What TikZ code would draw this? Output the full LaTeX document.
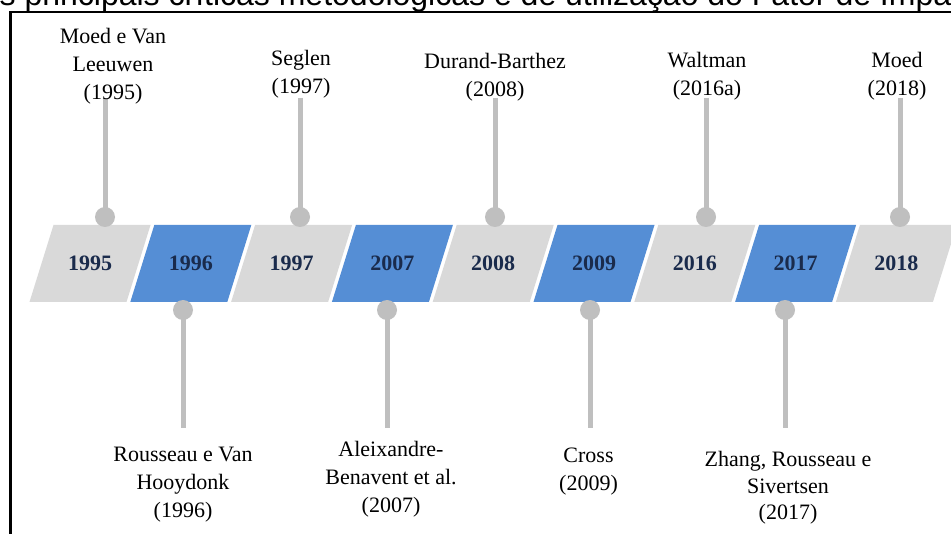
\documentclass[tikz,border=0pt]{standalone}
\usepackage{fontspec}
\setmainfont{Liberation Serif}
\newfontfamily\titlefont{Liberation Sans}
\definecolor{bargray}{HTML}{D9D9D9}
\definecolor{barblue}{HTML}{558ED5}
\definecolor{stemgray}{HTML}{BFBFBF}
\definecolor{yeartext}{HTML}{1A2B4C}
\tikzset{
  yearlbl/.style={font=\fontsize{22}{26}\selectfont\bfseries, text=yeartext, inner sep=0pt},
  dot/.style={circle, fill=stemgray, minimum size=20pt, inner sep=0pt},
  stem/.style={draw=stemgray, line width=5pt},
  citelbl/.style={font=\fontsize{22}{28}\selectfont, align=center, anchor=north, inner sep=0pt},
  citelblb/.style={font=\fontsize{22}{28}\selectfont, align=center, anchor=north, inner sep=0pt},
  frameline/.style={draw=black, line width=2.5pt}
}
\begin{document}
\begin{tikzpicture}[x=1pt,y=-1pt]
\useasboundingbox (0,0) rectangle (951,534);
\clip (0,0) rectangle (951,534);
\fill[white] (0,0) rectangle (951,534);
% title (cut off) and frame
\node[anchor=base west, font=\titlefont\fontsize{32}{38}\selectfont, inner sep=0pt] (title) at (-0.5,5.5) {s principais críticas metodológicas e de utilização do Fator de Impacto};
\draw[frameline] (10.5,12) rectangle (1000,600);
% parallelograms with years
\foreach \i/\yr/\col in {0/1995/bargray,1/1996/barblue,2/1997/bargray,3/2007/barblue,4/2008/bargray,5/2009/barblue,6/2016/bargray,7/2017/barblue,8/2018/bargray}{
  \pgfmathsetmacro\xb{29.5+100.8*\i}
  \fill[\col] (\xb,302) -- ({\xb+97},302) -- ({\xb+121},225) -- ({\xb+24},225) -- cycle;
  \node[yearlbl] (y\yr) at ({\xb+60.5},263.5) {\yr};
}
% top markers
\foreach \n/\x in {a/105,b/300,c/495,d/706,e/900}{
  \coordinate (ts\n) at (\x,98);
  \node[dot] (tc\n) at (\x,217) {};
  \draw[stem] (ts\n) -- (tc\n.center);
}
% bottom markers
\foreach \n/\x in {a/183,b/387,c/590,d/785}{
  \coordinate (bs\n) at (\x,428);
  \node[dot] (bc\n) at (\x,310) {};
  \draw[stem] (bc\n.center) -- (bs\n);
}
% top labels
\node[citelbl] (la) at (113,27.7) {Moed e Van\\Leeuwen\\(1995)};
\node[citelbl] (lb) at (301,50.4) {Seglen\\(1997)};
\node[citelbl] (lc) at (495,53.3) {Durand-Barthez\\(2008)};
\node[citelbl] (ld) at (707,52.3) {Waltman\\(2016a)};
\node[citelbl] (le) at (897,52.2) {Moed\\(2018)};
% bottom labels
\node[citelblb] (ma) at (183,446.7) {Rousseau e Van\\Hooydonk\\(1996)};
\node[citelblb] (mb) at (391,441) {Aleixandre-\\Benavent et al.\\(2007)};
\node[citelblb] (mc) at (588.5,447.5) {Cross\\(2009)};
\node[font=\fontsize{22}{26.5}\selectfont, align=center, anchor=north, inner sep=0pt] (md) at (788,451.4) {Zhang, Rousseau e\\Sivertsen\\(2017)};
\end{tikzpicture}
\end{document}
